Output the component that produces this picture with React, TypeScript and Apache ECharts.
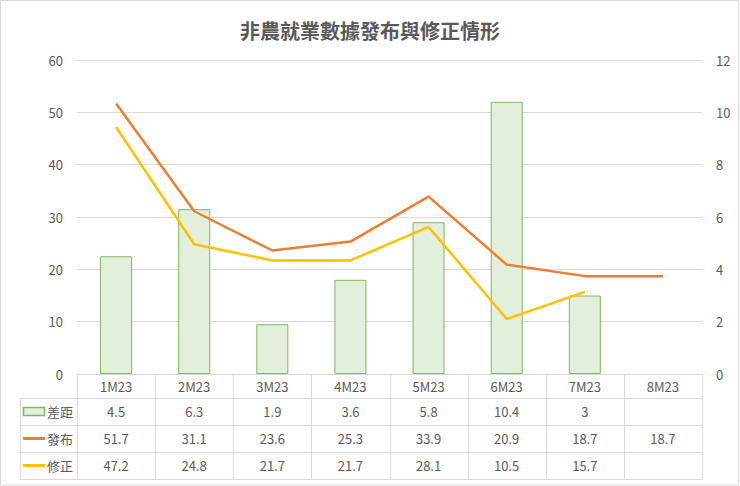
import { useEffect, useRef } from 'react'
import * as echarts from 'echarts'

const categories = ['1M23', '2M23', '3M23', '4M23', '5M23', '6M23', '7M23', '8M23']
const gapValues: (number | null)[] = [4.5, 6.3, 1.9, 3.6, 5.8, 10.4, 3, null]
const releaseValues: (number | null)[] = [51.7, 31.1, 23.6, 25.3, 33.9, 20.9, 18.7, 18.7]
const revisedValues: (number | null)[] = [47.2, 24.8, 21.7, 21.7, 28.1, 10.5, 15.7, null]

const leftTicks = { min: 0, max: 60, interval: 10 }
const rightTicks = { min: 0, max: 12, interval: 2 }

const W = 740
const H = 486
const PLOT_LEFT = 77
const PLOT_RIGHT = 702
const PLOT_TOP = 60
const PLOT_BOTTOM = 374
const TABLE_LEFT = 20
const ROW_LINES = [374, 398, 425, 452, 479]

const TEXT = '#595959'
const GRID = '#D9D9D9'
const FONT = '"Noto Sans CJK TC", "Noto Sans", sans-serif'

const rows = [
  { name: '差距', values: gapValues, kind: 'bar', color: '#E2EFDA', border: '#7DB95B' },
  { name: '發布', values: releaseValues, kind: 'line', color: '#ED7D31' },
  { name: '修正', values: revisedValues, kind: 'line', color: '#FFC000' }
]

function buildTable(): any[] {
  const els: any[] = []
  const colW = (PLOT_RIGHT - PLOT_LEFT) / categories.length
  const line = (x1: number, y1: number, x2: number, y2: number) => ({
    type: 'line',
    silent: true,
    shape: { x1, y1, x2, y2 },
    style: { stroke: GRID, lineWidth: 1 }
  })
  // horizontal lines
  els.push(line(PLOT_LEFT, ROW_LINES[0] + 0.5, PLOT_RIGHT, ROW_LINES[0] + 0.5))
  for (let i = 1; i < ROW_LINES.length; i++) {
    els.push(line(TABLE_LEFT, ROW_LINES[i] + 0.5, PLOT_RIGHT, ROW_LINES[i] + 0.5))
  }
  // vertical lines
  for (let c = 0; c <= categories.length; c++) {
    const x = Math.round(PLOT_LEFT + c * colW) + 0.5
    els.push(line(x, ROW_LINES[0], x, ROW_LINES[ROW_LINES.length - 1]))
  }
  els.push(line(TABLE_LEFT + 0.5, ROW_LINES[1], TABLE_LEFT + 0.5, ROW_LINES[ROW_LINES.length - 1]))

  rows.forEach((row, r) => {
    const cy = (ROW_LINES[r + 1] + ROW_LINES[r + 2]) / 2
    if (row.kind === 'bar') {
      els.push({
        type: 'rect',
        silent: true,
        shape: { x: TABLE_LEFT + 3.5, y: cy - 4, width: 21, height: 8 },
        style: { fill: row.color, stroke: row.border, lineWidth: 1.5 }
      })
    } else {
      els.push({
        type: 'line',
        silent: true,
        shape: { x1: TABLE_LEFT + 3, y1: cy, x2: TABLE_LEFT + 25, y2: cy },
        style: { stroke: row.color, lineWidth: 3 }
      })
    }
    els.push({
      type: 'text',
      silent: true,
      x: TABLE_LEFT + 27,
      y: cy,
      style: { text: row.name, fill: TEXT, font: `13px ${FONT}`, align: 'left', verticalAlign: 'middle' }
    })
    row.values.forEach((v, c) => {
      if (v == null) return
      els.push({
        type: 'text',
        silent: true,
        x: PLOT_LEFT + (c + 0.5) * colW,
        y: cy,
        style: { text: String(v), fill: TEXT, font: `13px ${FONT}`, align: 'center', verticalAlign: 'middle' }
      })
    })
  })

  els.push({
    type: 'rect',
    silent: true,
    shape: { x: 0.5, y: 0.5, width: W - 2, height: H - 1.5 },
    style: { fill: 'none', stroke: GRID, lineWidth: 1 }
  })
  return els
}

export default function App() {
  const chartRef = useRef<HTMLDivElement>(null)

  useEffect(() => {
    document.body.style.margin = '0'
    if (!chartRef.current) return
    const chart = echarts.init(chartRef.current, undefined, { renderer: 'svg' })

    const option: echarts.EChartsOption = {
      animation: false,
      backgroundColor: '#ffffff',
      textStyle: { fontFamily: FONT },
      title: {
        text: '非農就業數據發布與修正情形',
        left: 'center',
        top: 15,
        textStyle: { color: TEXT, fontSize: 20, fontWeight: 'bold', fontFamily: FONT }
      },
      grid: {
        left: PLOT_LEFT,
        right: W - PLOT_RIGHT,
        top: PLOT_TOP,
        bottom: H - PLOT_BOTTOM
      },
      xAxis: {
        type: 'category',
        data: categories,
        boundaryGap: true,
        axisLine: { show: false },
        axisTick: { show: false },
        axisLabel: { color: TEXT, fontSize: 13, margin: 6, interval: 0 }
      },
      yAxis: [
        {
          type: 'value',
          ...leftTicks,
          axisLine: { show: false },
          axisTick: { show: false },
          axisLabel: { color: TEXT, fontSize: 13, margin: 14 },
          splitLine: { lineStyle: { color: GRID, width: 1 } }
        },
        {
          type: 'value',
          ...rightTicks,
          position: 'right',
          axisLine: { show: false },
          axisTick: { show: false },
          axisLabel: { color: TEXT, fontSize: 13, margin: 14 },
          splitLine: { show: false }
        }
      ],
      series: [
        {
          name: rows[0].name,
          type: 'bar',
          yAxisIndex: 1,
          barWidth: 32,
          data: gapValues,
          itemStyle: { color: rows[0].color, borderColor: rows[0].border, borderWidth: 1 }
        },
        {
          name: rows[1].name,
          type: 'line',
          yAxisIndex: 0,
          data: releaseValues,
          showSymbol: false,
          symbol: 'none',
          lineStyle: { color: rows[1].color, width: 2.5 },
          itemStyle: { color: rows[1].color }
        },
        {
          name: rows[2].name,
          type: 'line',
          yAxisIndex: 0,
          data: revisedValues,
          showSymbol: false,
          symbol: 'none',
          lineStyle: { color: rows[2].color, width: 2.5 },
          itemStyle: { color: rows[2].color }
        }
      ],
      graphic: buildTable()
    }

    chart.setOption(option)
    return () => chart.dispose()
  }, [])

  return <div ref={chartRef} style={{ width: W, height: H }} />
}
